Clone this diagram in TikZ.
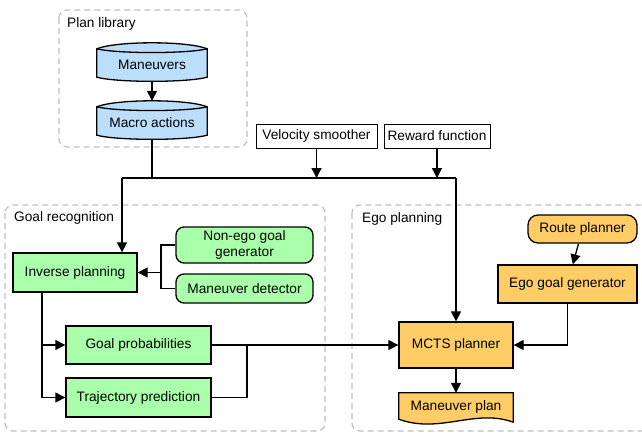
\documentclass[tikz,border=0pt]{standalone}
\usepackage{fontspec}
\setmainfont{Liberation Sans}
\usetikzlibrary{arrows.meta,calc,backgrounds}
\definecolor{libblue}{RGB}{187,222,251}
\definecolor{goalgreen}{RGB}{170,255,170}
\definecolor{egoorange}{RGB}{255,204,102}
\definecolor{groupgray}{RGB}{190,190,190}

% drum outline behind a plan library node
\newcommand{\libdrum}[1]{%
  \filldraw[libbox] (#1.north west)
    .. controls ($(#1.north west)+(20,-8)$) and ($(#1.north east)+(-20,-8)$) .. (#1.north east)
    -- ($(#1.south east)+(0,-4)$)
    .. controls ($(#1.south east)+(-20,1.5)$) and ($(#1.south west)+(20,1.5)$) .. ($(#1.south west)+(0,-4)$)
    -- cycle;
  \draw[libbox] (#1.north west)
    .. controls ($(#1.north west)+(20,5)$) and ($(#1.north east)+(-20,5)$) .. (#1.north east);}

\begin{document}
\begin{tikzpicture}[x=1pt,y=-1pt,font=\fontsize{13.7pt}{16.5pt}\selectfont,
    group/.style={draw=groupgray,line width=1.2pt,dash pattern=on 6pt off 4pt,rounded corners=8pt},
    lbl/.style={anchor=west,inner sep=0pt},
    libbox/.style={draw,fill=libblue,line width=1.3pt},
    libtext/.style={inner sep=0pt,minimum width=110pt,minimum height=32pt},
    ext/.style={draw,fill=white,line width=1pt,minimum height=24pt},
    gbox/.style={draw,fill=goalgreen,line width=1.3pt},
    obox/.style={draw,fill=egoorange,line width=1.3pt},
    link/.style={line width=1.3pt},
    arr/.style={link,-{Triangle[length=10pt,width=10pt]}}]
  \clip (0,0) rectangle (642,434);

  % groups
  \draw[group] (59,10) rectangle (247,147);
  \draw[group] (5,205) rectangle (325,431);
  \draw[group] (352,205) rectangle (660,431);
  \node[lbl] (plib) at (67,24) {Plan library};
  \node[lbl] (goalrec) at (14,218) {Goal recognition};
  \node[lbl] (egoplan) at (362,219) {Ego planning};

  % plan library
  \node[libtext] (maneuvers) at (152,65) {Maneuvers};
  \node[libtext] (macro) at (152,123) {Macro actions};
  \begin{scope}[on background layer]
    \libdrum{maneuvers}
    \libdrum{macro}
  \end{scope}
  \draw[arr] (maneuvers.south) -- ([yshift=6pt]macro.north);

  % inputs
  \node[ext,minimum width=121pt] (velocity) at (316.5,136) {Velocity smoother};
  \node[ext,minimum width=106pt] (reward) at (437,136) {Reward function};

  % goal recognition
  \node[gbox,minimum width=124pt,minimum height=39pt] (inverse) at (75,272.5) {Inverse planning};
  \node[gbox,rounded corners=8pt,minimum width=137pt,minimum height=36pt,align=center] (nonego) at (244.5,245) {Non-ego goal\\generator};
  \node[gbox,rounded corners=8pt,minimum width=137pt,minimum height=29pt] (detector) at (244.5,288.5) {Maneuver detector};
  \node[gbox,minimum width=145pt,minimum height=38pt] (goalprob) at (138.5,345) {Goal probabilities};
  \node[gbox,minimum width=145pt,minimum height=39pt] (trajpred) at (138.5,397.5) {Trajectory prediction};

  % ego planning
  \node[obox,rounded corners=10pt,minimum width=109pt,minimum height=28pt] (route) at (582.5,229) {Route planner};
  \node[obox,minimum width=139pt,minimum height=38pt] (egogoal) at (567.5,284) {Ego goal generator};
  \node[obox,minimum width=114pt,minimum height=46pt] (mcts) at (456,345) {MCTS planner};
  \node[inner sep=0pt,minimum width=114pt,minimum height=28pt] (plan) at (456,407) {Maneuver plan};
  \begin{scope}[on background layer]
    \filldraw[obox] (plan.north west) -- (plan.north east) -- ($(plan.south east)+(0,1)$)
      .. controls ($(plan.south east)+(-38,-13)$) and ($(plan.south west)+(41,13)$) .. ($(plan.south west)+(0,-2)$)
      -- cycle;
  \end{scope}

  % connectors
  \coordinate (busl) at (122,178);
  \coordinate (busr) at (456,178);
  \draw[link] (macro.south) -- (macro.south |- busl);
  \draw[arr] (velocity) -- (velocity |- busl);
  \draw[arr] (reward) -- (reward |- busl);
  \draw[link] (busl) -- (busr);
  \draw[arr] (busl) -- (inverse.north -| busl);
  \draw[arr] (busr) -- (mcts.north);

  \coordinate (jn) at (161,272.5);
  \draw[link] (nonego.west) -| (jn);
  \draw[link] (detector.west) -| (jn);
  \draw[arr] (jn) -- (inverse.east);

  \coordinate (ib) at ([xshift=-33pt]inverse.south);
  \draw[arr] (ib) |- (goalprob.west);
  \draw[arr] (ib) |- (trajpred.west);
  \coordinate (jt) at (247,345);
  \draw[arr] (goalprob.east) -- (mcts.west);
  \draw[link] (trajpred.east) -| (jt);

  \draw[arr] (route) -- (egogoal);
  \draw[arr] (egogoal.south) |- (mcts.east);
  \draw[arr] (mcts.south) -- (plan.north);
\end{tikzpicture}
\end{document}
